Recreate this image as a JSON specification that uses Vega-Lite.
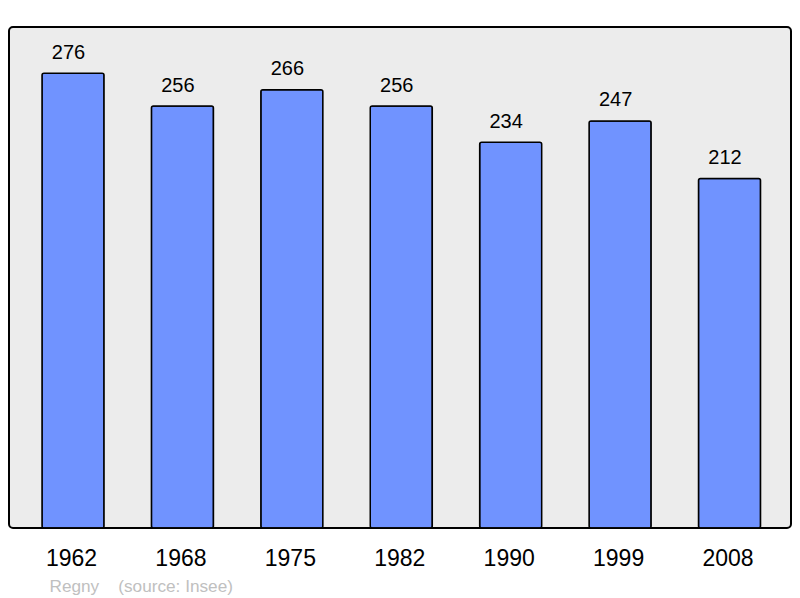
{
  "$schema": "https://vega.github.io/schema/vega-lite/v6.json",
  "width": 782,
  "height": 501,
  "autosize": {"type": "none"},
  "padding": {"left": 9, "top": 27, "right": 9, "bottom": 70},
  "background": "#ffffff",
  "config": {
    "font": "Liberation Sans",
    "view": {"stroke": "#000000", "strokeWidth": 2, "fill": "#ececec", "cornerRadius": 4}
  },
  "data": {
    "values": [
      {"year": "1962", "population": 276},
      {"year": "1968", "population": 256},
      {"year": "1975", "population": 266},
      {"year": "1982", "population": 256},
      {"year": "1990", "population": 234},
      {"year": "1999", "population": 247},
      {"year": "2008", "population": 212}
    ]
  },
  "encoding": {
    "x": {
      "field": "year",
      "type": "nominal",
      "sort": null,
      "scale": {"paddingInner": 0.433, "paddingOuter": 0.29, "align": 0.52},
      "axis": {
        "title": "Regny\u00a0\u00a0\u00a0\u00a0(source: Insee)",
        "titleFontSize": 17.2,
        "titleFontWeight": "normal",
        "titleColor": "#c0c0c0",
        "titleAlign": "left",
        "titleAnchor": "start",
        "titleBaseline": "alphabetic",
        "titleX": 40,
        "titleY": 63,
        "domain": false,
        "ticks": false,
        "labelAngle": 0,
        "labelFontSize": 23,
        "labelColor": "#000000",
        "labelBaseline": "alphabetic",
        "labelPadding": 37,
        "labelOffset": -1.5
      }
    },
    "y": {
      "field": "population",
      "type": "quantitative",
      "scale": {"domain": [0, 304], "nice": false, "zero": true},
      "axis": null
    }
  },
  "layer": [
    {
      "mark": {"type": "bar", "fill": "#7093ff", "stroke": "#000000", "strokeWidth": 1.5, "cornerRadius": 2}
    },
    {
      "mark": {"type": "text", "baseline": "alphabetic", "dy": -14.5, "dx": -4.5, "fontSize": 20, "color": "#000000"},
      "encoding": {"text": {"field": "population", "type": "quantitative"}}
    }
  ]
}
